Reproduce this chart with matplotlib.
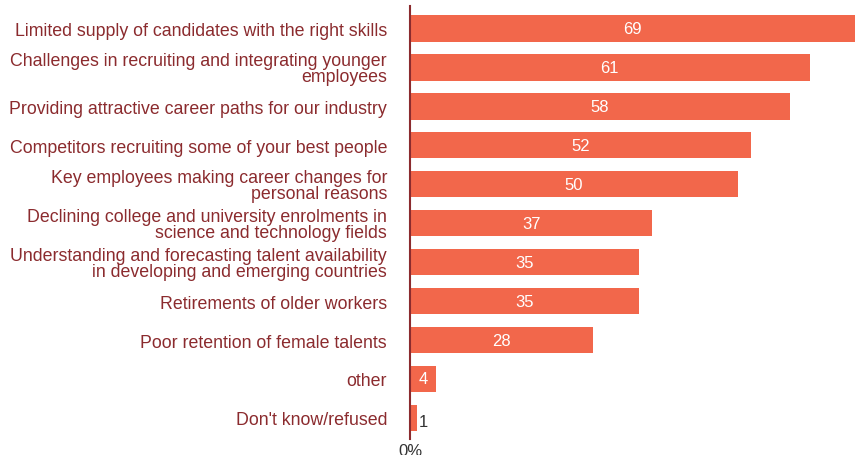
import numpy as np
import matplotlib.pyplot as plt

plt.rcParams['font.family'] = ['Liberation Sans', 'DejaVu Sans']

categories = [
    "Limited supply of candidates with the right skills",
    "Challenges in recruiting and integrating younger\nemployees",
    "Providing attractive career paths for our industry",
    "Competitors recruiting some of your best people",
    "Key employees making career changes for\npersonal reasons",
    "Declining college and university enrolments in\nscience and technology fields",
    "Understanding and forecasting talent availability\nin developing and emerging countries",
    "Retirements of older workers",
    "Poor retention of female talents",
    "other",
    "Don't know/refused",
]
values = [69, 61, 58, 52, 50, 37, 35, 35, 28, 4, 1]

bar_color = '#F2674B'
text_color = '#8B2B2E'

fig = plt.figure(figsize=(8.55, 4.56), dpi=100)
ax = fig.add_axes([0.4795, 0.035, 0.5205, 0.95])

y = np.arange(len(values))
ax.barh(y, values, height=0.69, color=bar_color)
xmax = 67.9
ax.set_xlim(0, xmax)
ax.set_ylim(len(values) - 0.46, -0.57)

for yi, v in zip(y, values):
    if v >= 3:
        ax.text(min(v, xmax) / 2, yi, str(v), color='white', fontsize=12,
                ha='center', va='center')
    else:
        ax.text(v + 0.4, yi + 0.08, str(v), color='#333333', fontsize=12,
                ha='left', va='center')

ax.set_yticks(y)
ax.set_yticklabels(categories, fontsize=12.8, color=text_color, linespacing=0.9)
ax.tick_params(axis='y', length=0, pad=16.5)
ax.set_xticks([0])
ax.set_xticklabels(['0%'], fontsize=12, color='#333333')
ax.tick_params(axis='x', length=0, pad=3)

for side in ['top', 'right', 'bottom']:
    ax.spines[side].set_visible(False)
ax.spines['left'].set_color(text_color)
ax.spines['left'].set_linewidth(1.5)

fig.savefig('out.png', dpi=100)
